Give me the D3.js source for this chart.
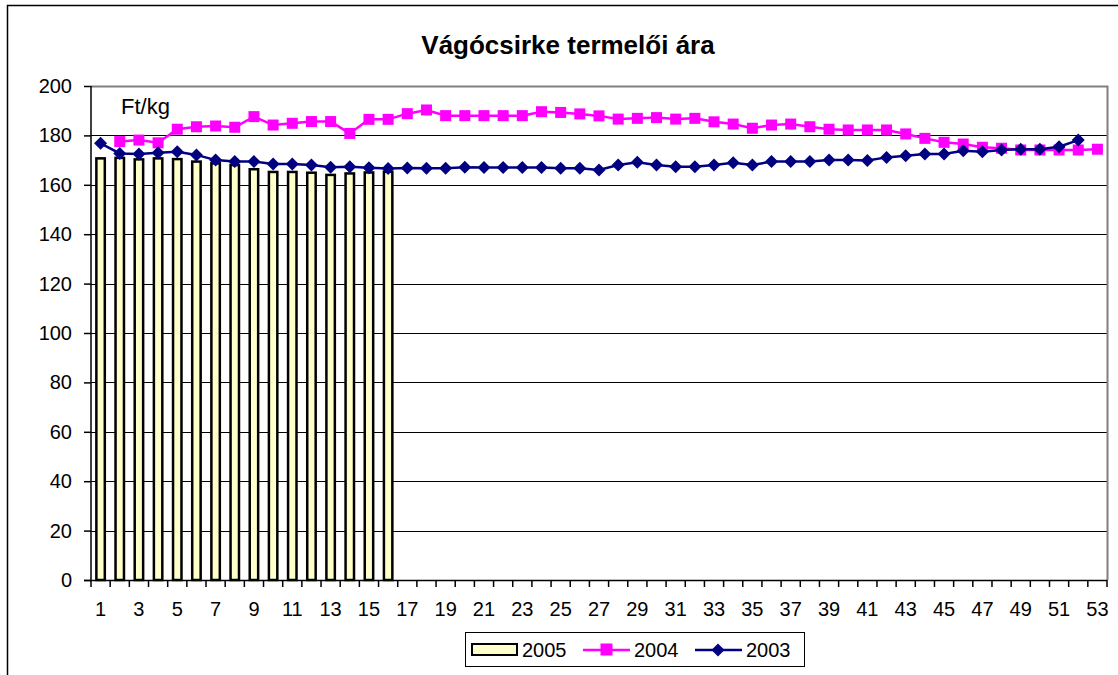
<!DOCTYPE html>
<html>
<head>
<meta charset="utf-8">
<script src="https://cdn.jsdelivr.net/npm/d3@7"></script>
<style>
  body { margin: 0; background: #fff; }
  text { font-family: "Liberation Sans", Arial, sans-serif; fill: #000; }
</style>
</head>
<body>
<div id="chart"></div>
<script>
// data
var weeks = d3.range(1, 54);
var xLabels = weeks.filter(function (w) { return w % 2 === 1; });
var yTicks = [0, 20, 40, 60, 80, 100, 120, 140, 160, 180, 200];

var v2005 = [170.7, 170.9, 170.3, 170.7, 170.4, 169.4, 168.7, 168.0, 166.3, 165.2,
             165.2, 164.9, 164.0, 164.6, 165.0, 165.3];

var v2004 = [null, 177.5, 178.1, 177.0, 182.5, 183.5, 183.8, 183.3, 187.6, 184.2,
             184.9, 185.6, 185.6, 180.8, 186.5, 186.5, 188.8, 190.3, 188.0, 188.0,
             188.0, 188.0, 188.0, 189.6, 189.3, 188.7, 187.9, 186.6, 186.9, 187.2,
             186.6, 186.9, 185.5, 184.6, 182.9, 184.2, 184.6, 183.5, 182.5, 182.2,
             182.2, 182.2, 180.6, 178.8, 177.2, 176.5, 175.2, 174.8, 174.1, 174.1,
             174.1, 174.1, 174.4];

var v2003 = [176.8, 172.7, 172.5, 173.0, 173.4, 172.1, 170.0, 169.4, 169.4, 168.4,
             168.4, 168.0, 167.1, 167.3, 166.9, 166.6, 166.8, 166.7, 166.7, 167.1,
             167.0, 167.0, 167.0, 167.0, 166.7, 166.7, 166.0, 168.0, 169.1, 168.0,
             167.3, 167.3, 168.0, 168.9, 168.0, 169.4, 169.4, 169.4, 170.0, 170.0,
             169.8, 171.1, 171.8, 172.5, 172.5, 173.8, 173.4, 174.1, 174.4, 174.4,
             175.4, 178.1];

var W = 1118, H = 675;
var pLeft = 91, pRight = 1107, pTop = 86, pBottom = 580;

var svg = d3.select('#chart').append('svg')
    .attr('width', W)
    .attr('height', H);

// outer chart border
svg.append('rect')
    .attr('x', 7.5).attr('y', 5.5)
    .attr('width', W + 20).attr('height', H + 20)
    .attr('fill', '#fff')
    .attr('stroke', '#000')
    .attr('stroke-width', 1.5);

var xScale = d3.scaleBand()
    .domain(weeks)
    .range([pLeft, pRight])
    .padding(0);
var yScale = d3.scaleLinear()
    .domain([0, 200])
    .range([pBottom, pTop]);

function cx(w) { return xScale(w) + xScale.bandwidth() / 2; }

// gridlines
svg.append('g')
    .selectAll('line')
    .data(yTicks.filter(function (t) { return t > 0 && t < 200; }))
    .enter()
    .append('line')
    .attr('x1', pLeft).attr('x2', pRight)
    .attr('y1', function (d) { return Math.round(yScale(d)) + 0.5; })
    .attr('y2', function (d) { return Math.round(yScale(d)) + 0.5; })
    .attr('stroke', '#000')
    .attr('stroke-width', 1);

// plot area border (top/right grey)
svg.append('path')
    .attr('d', 'M' + pLeft + ',' + (pTop + 0.5) + 'H' + (pRight + 0.5) + 'V' + pBottom)
    .attr('fill', 'none')
    .attr('stroke', '#808080')
    .attr('stroke-width', 2);

// title
svg.append('text')
    .attr('x', 568).attr('y', 54)
    .attr('text-anchor', 'middle')
    .attr('font-size', '26px')
    .attr('font-weight', 'bold')
    .text('Vágócsirke termelői ára');

// unit label
svg.append('text')
    .attr('x', 121).attr('y', 114)
    .attr('font-size', '22px')
    .text('Ft/kg');

// bars 2005
var barW = xScale.bandwidth() * 0.44;
svg.append('g')
    .selectAll('rect')
    .data(v2005)
    .enter()
    .append('rect')
    .attr('x', function (d, i) { return cx(weeks[i]) - barW / 2; })
    .attr('y', function (d) { return yScale(d); })
    .attr('width', barW)
    .attr('height', function (d) { return pBottom - yScale(d); })
    .attr('fill', '#FFFFCC')
    .attr('stroke', '#000')
    .attr('stroke-width', 2.5);

// y axis
var yAxisG = svg.append('g')
    .attr('transform', 'translate(' + pLeft + ',0)')
    .call(d3.axisLeft(yScale).tickValues(yTicks).tickSize(7).tickPadding(12));
yAxisG.selectAll('text').attr('font-size', '20px').attr('font-family', '"Liberation Sans", Arial, sans-serif');
yAxisG.selectAll('line,path').attr('stroke', '#000').attr('stroke-width', 1.5);
yAxisG.select('.domain').attr('d', 'M0,' + pTop + 'V' + pBottom);

// x axis: ticks at category boundaries, labels on odd weeks
var xg = svg.append('g');
xg.append('line')
    .attr('x1', pLeft - 7).attr('x2', pRight)
    .attr('y1', pBottom + 0.5).attr('y2', pBottom + 0.5)
    .attr('stroke', '#000').attr('stroke-width', 1.5);
xg.selectAll('.tk')
    .data(weeks.concat([54]))
    .enter()
    .append('line')
    .attr('x1', function (w) { return w === 54 ? pRight : xScale(w); })
    .attr('x2', function (w) { return w === 54 ? pRight : xScale(w); })
    .attr('y1', pBottom).attr('y2', pBottom + 7)
    .attr('stroke', '#000').attr('stroke-width', 1.5);
xg.selectAll('.lbl')
    .data(xLabels)
    .enter()
    .append('text')
    .attr('x', function (w) { return cx(w); })
    .attr('y', 616)
    .attr('text-anchor', 'middle')
    .attr('font-size', '20px')
    .text(function (w) { return w; });

// lines
var line = d3.line()
    .defined(function (d) { return d.v != null; })
    .x(function (d) { return cx(d.w); })
    .y(function (d) { return yScale(d.v); });

function series(vals) {
    return vals.map(function (v, i) { return { w: weeks[i], v: v }; });
}

var s2004 = series(v2004).filter(function (d) { return d.v != null; });
var s2003 = series(v2003);

svg.append('path')
    .datum(s2004)
    .attr('d', line)
    .attr('fill', 'none')
    .attr('stroke', '#FF00FF')
    .attr('stroke-width', 2.5);
svg.append('g')
    .selectAll('rect')
    .data(s2004)
    .enter()
    .append('rect')
    .attr('x', function (d) { return cx(d.w) - 5.5; })
    .attr('y', function (d) { return yScale(d.v) - 5.5; })
    .attr('width', 11).attr('height', 11)
    .attr('fill', '#FF00FF');

svg.append('path')
    .datum(s2003)
    .attr('d', line)
    .attr('fill', 'none')
    .attr('stroke', '#000080')
    .attr('stroke-width', 2.5);
svg.append('g')
    .selectAll('path')
    .data(s2003)
    .enter()
    .append('path')
    .attr('d', 'M0,-6.5L6.5,0L0,6.5L-6.5,0Z')
    .attr('transform', function (d) { return 'translate(' + cx(d.w) + ',' + yScale(d.v) + ')'; })
    .attr('fill', '#000080');

// legend
var lg = svg.append('g');
lg.append('rect')
    .attr('x', 465.5).attr('y', 632.5)
    .attr('width', 339).attr('height', 34)
    .attr('fill', '#fff')
    .attr('stroke', '#000').attr('stroke-width', 1);
lg.append('rect')
    .attr('x', 472).attr('y', 644)
    .attr('width', 45).attr('height', 11)
    .attr('fill', '#FFFFCC')
    .attr('stroke', '#000').attr('stroke-width', 2);
lg.append('text').attr('x', 522).attr('y', 657).attr('font-size', '20px').text('2005');

lg.append('line')
    .attr('x1', 583).attr('x2', 630).attr('y1', 650).attr('y2', 650)
    .attr('stroke', '#FF00FF').attr('stroke-width', 2.5);
lg.append('rect')
    .attr('x', 600.5).attr('y', 643.5).attr('width', 12).attr('height', 12)
    .attr('fill', '#FF00FF');
lg.append('text').attr('x', 634).attr('y', 657).attr('font-size', '20px').text('2004');

lg.append('line')
    .attr('x1', 695).attr('x2', 742).attr('y1', 650).attr('y2', 650)
    .attr('stroke', '#000080').attr('stroke-width', 2.5);
lg.append('path')
    .attr('d', 'M0,-6.5L6.5,0L0,6.5L-6.5,0Z')
    .attr('transform', 'translate(718,650)')
    .attr('fill', '#000080');
lg.append('text').attr('x', 746).attr('y', 657).attr('font-size', '20px').text('2003');
</script>
</body>
</html>
